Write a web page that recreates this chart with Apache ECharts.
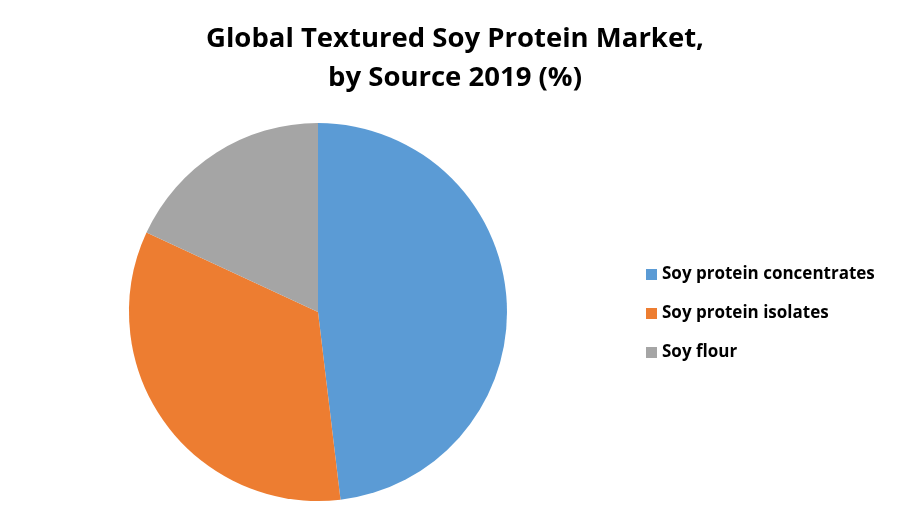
<!DOCTYPE html>
<html>
<head>
<meta charset="utf-8">
<script src="https://cdn.jsdelivr.net/npm/echarts@6/dist/echarts.min.js"></script>
<style>
  html, body { margin: 0; padding: 0; background: #fff; }
  #chart { width: 900px; height: 525px; }
</style>
</head>
<body>
<div id="chart"></div>
<script>
// 데이터
const sources = ['Soy protein concentrates', 'Soy protein isolates', 'Soy flour'];
const shares = [48.1, 33.8, 18.1];
const colors = ['#5B9BD5', '#ED7D31', '#A5A5A5'];

const chart = echarts.init(document.getElementById('chart'));

const option = {
	title: {
		text: 'Global Textured Soy Protein Market,\nby Source 2019 (%)',
		left: 450,
		textAlign: 'center',
		top: 15,
		textStyle: {
			fontFamily: 'Open Sans',
			fontSize: 27.5,
			fontWeight: 'bold',
			color: '#000',
			lineHeight: 39
		}
	},
	legend: {
		orient: 'vertical',
		left: 641,
		top: 261,
		itemWidth: 11,
		itemHeight: 11,
		itemGap: 22,
		icon: 'rect',
		textStyle: {
			fontFamily: 'Open Sans',
			fontSize: 17,
			fontWeight: 'bold',
			color: '#000'
		},
		data: sources
	},
	series: [
		{
			type: 'pie',
			center: [318, 312],
			radius: 189,
			startAngle: 90,
			clockwise: true,
			label: { show: false },
			labelLine: { show: false },
			emphasis: { disabled: true },
			data: sources.map((name, i) => ({
				name: name,
				value: shares[i],
				itemStyle: { color: colors[i] }
			}))
		}
	]
};

chart.setOption(option);
</script>
</body>
</html>
